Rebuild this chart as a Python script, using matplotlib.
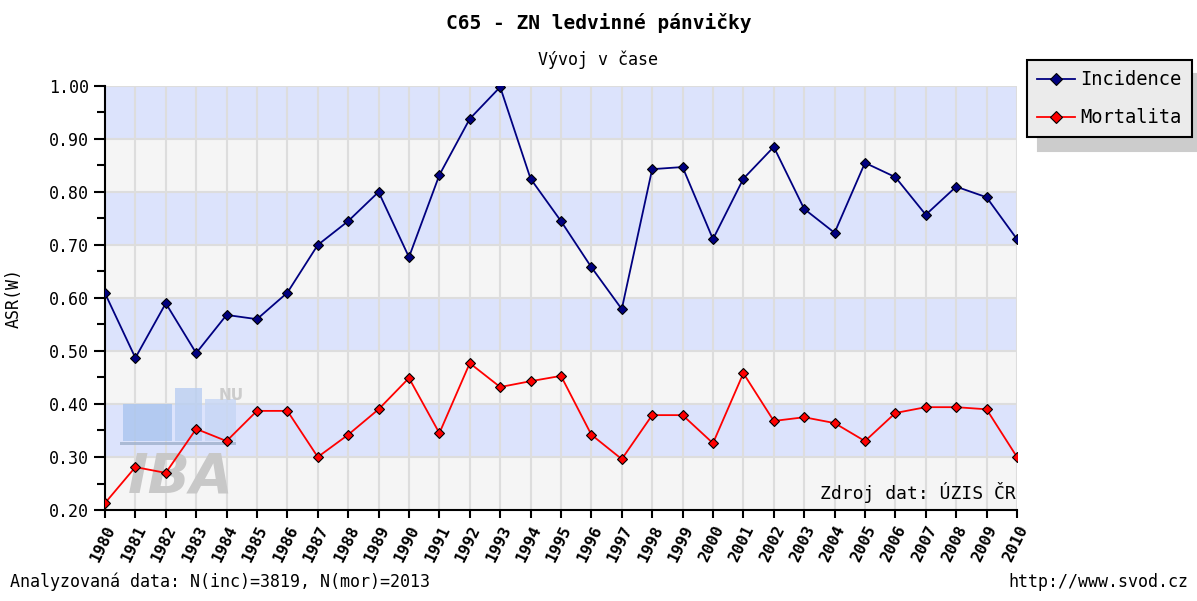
import numpy as np
import matplotlib
matplotlib.use('Agg')
import matplotlib.pyplot as plt
from matplotlib.patches import Rectangle

years = list(range(1980, 2011))
incidence = [0.609, 0.487, 0.590, 0.496, 0.568, 0.560, 0.610, 0.700, 0.745, 0.800,
             0.677, 0.832, 0.938, 0.998, 0.825, 0.745, 0.658, 0.579, 0.843, 0.847,
             0.711, 0.825, 0.885, 0.768, 0.723, 0.855, 0.828, 0.757, 0.810, 0.790, 0.711]
mortalita = [0.213, 0.281, 0.270, 0.353, 0.330, 0.387, 0.387, 0.300, 0.342, 0.390,
             0.449, 0.345, 0.477, 0.432, 0.443, 0.453, 0.342, 0.296, 0.379, 0.379,
             0.326, 0.458, 0.368, 0.375, 0.364, 0.330, 0.383, 0.394, 0.394, 0.390, 0.300]
yticks = [0.2, 0.3, 0.4, 0.5, 0.6, 0.7, 0.8, 0.9, 1.0]

plt.rcParams['font.family'] = ['DejaVu Sans Mono']

fig = plt.figure(figsize=(11.97, 6.01), dpi=100)
ax = fig.add_axes([0.0877, 0.1514, 0.7619, 0.7056])

# alternating bands
for i in range(len(yticks) - 1):
    col = '#f5f5f5' if i % 2 == 0 else '#dce3fc'
    ax.axhspan(yticks[i], yticks[i + 1], color=col, zorder=0, lw=0)
for y in yticks[1:]:
    ax.axhline(y, color='#dddddd', lw=1.5, zorder=1)
for yr in years[1:]:
    ax.axvline(yr, color='#dddddd', lw=1.5, zorder=1)

# watermark (IBA logo)
ax.add_patch(Rectangle((1980.6, 0.33), 1.6, 0.07, color='#a9c4ef', alpha=0.8, zorder=1.5, lw=0))
ax.add_patch(Rectangle((1982.3, 0.33), 0.9, 0.10, color='#b9cef2', alpha=0.8, zorder=1.5, lw=0))
ax.add_patch(Rectangle((1983.3, 0.33), 1.0, 0.08, color='#c6d6f5', alpha=0.8, zorder=1.5, lw=0))
ax.add_patch(Rectangle((1980.5, 0.322), 3.8, 0.006, color='#9fb0cc', alpha=0.8, zorder=1.5, lw=0))
ax.text(1980.75, 0.233, 'IBA', fontsize=40, fontweight='bold', style='italic',
        family='DejaVu Sans', color='#c8c8c8', zorder=1.5)
ax.text(1983.75, 0.408, 'NU', fontsize=11, fontweight='bold',
        family='DejaVu Sans', color='#cccccc', zorder=1.5)

ax.plot(years, incidence, color='#000080', lw=1.3, marker='D', ms=5,
        mfc='#000080', mec='black', mew=0.8, label='Incidence', zorder=3)
ax.plot(years, mortalita, color='#ff0000', lw=1.3, marker='D', ms=5,
        mfc='#ff0000', mec='black', mew=0.8, label='Mortalita', zorder=3)

ax.set_xlim(1980, 2010)
ax.set_ylim(0.2, 1.0)
ax.set_yticks(yticks)
ax.set_yticklabels(['%.2f' % v for v in yticks], fontsize=12)
ax.set_yticks(np.arange(0.25, 1.0, 0.1), minor=True)
ax.set_xticks(years)
ax.set_xticklabels([str(y) for y in years], rotation=64, ha='right', va='top',
                   rotation_mode='anchor', fontsize=11.5, fontweight='bold')
ax.tick_params(axis='both', which='both', direction='out', length=6, width=1.5, color='black')
ax.tick_params(axis='y', which='major', length=8)
for s in ['top', 'right']:
    ax.spines[s].set_visible(False)
for s in ['left', 'bottom']:
    ax.spines[s].set_linewidth(1.5)
ax.set_ylabel('ASR(W)', fontsize=12)
ax.yaxis.set_label_coords(-0.09, 0.5)

ax.text(2009.95, 0.213, 'Zdroj dat: ÚZIS ČR', ha='right', va='bottom', fontsize=13, zorder=4)

leg = fig.legend(loc='upper left', bbox_to_anchor=(0.858, 0.9), fontsize=13.5,
                 frameon=True, fancybox=False,
                 shadow={'color': '#cccccc', 'alpha': 1.0, 'ox': 8, 'oy': -10},
                 handlelength=2.0, borderpad=0.55, labelspacing=1.0, handletextpad=0.3,
                 borderaxespad=0.0, markerscale=1.3)
leg.get_frame().set_facecolor('#ebebeb')
leg.get_frame().set_edgecolor('black')
leg.get_frame().set_linewidth(1.5)

fig.text(0.5, 0.962, 'C65 - ZN ledvinné pánvičky', ha='center', va='center',
         fontsize=14, fontweight='bold')
fig.text(0.5, 0.9, 'Vývoj v čase', ha='center', va='center', fontsize=12)
fig.text(0.008, 0.016, 'Analyzovaná data: N(inc)=3819, N(mor)=2013', ha='left', va='bottom', fontsize=12)
fig.text(0.993, 0.016, 'http://www.svod.cz', ha='right', va='bottom', fontsize=12)

fig.savefig('out.png', dpi=100)
